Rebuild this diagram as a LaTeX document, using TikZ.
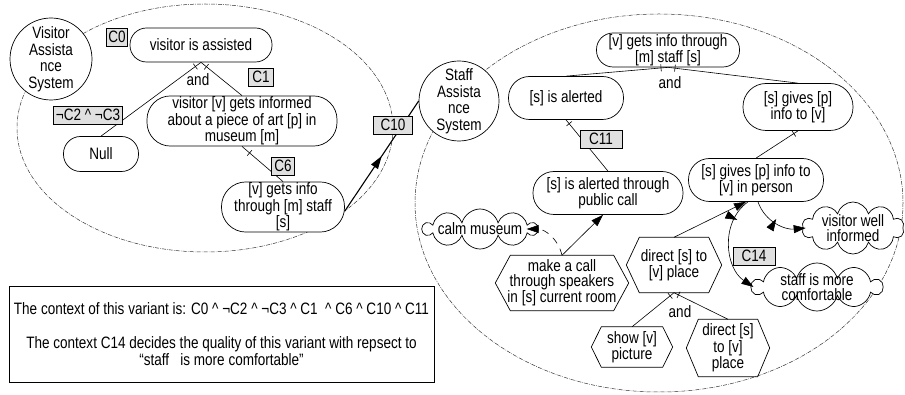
\documentclass[tikz,border=0pt]{standalone}
\usepackage{fontspec}
\setmainfont{Liberation Sans}[FakeStretch=0.82]
\usetikzlibrary{shapes.misc,shapes.symbols,arrows.meta,decorations.markings}
\begin{document}
\begin{tikzpicture}[x=1pt,y=-1pt,
  every node/.style={font=\fontsize{16.5pt}{15pt}\selectfont, inner sep=1pt},
  goal/.style={rectangle, draw, fill=white, line width=0.7pt, align=center},
  hexbox/.style={rectangle, align=center, inner sep=0pt},
  hexline/.style={line width=0.7pt},
  ctxl/.style={draw, fill=black!12, line width=0.6pt, inner xsep=2pt, inner ysep=1pt, minimum height=18pt},
  cloudn/.style={cloud, draw, fill=white, cloud puffs=10, cloud puff arc=150, cloud ignores aspect, line width=0.7pt, inner sep=0pt},
  sys/.style={circle, draw, fill=white, line width=0.7pt, align=center, font=\fontsize{16.5pt}{16.5pt}\selectfont, inner sep=0pt},
  conn/.style={line width=0.6pt},
  arrowend/.style={-{Triangle[length=12pt,width=8pt]}},
  tickat/.style={postaction={decorate,decoration={markings,mark=at position #1 with {\draw[line width=0.6pt] (0pt,-3.5pt) -- (0pt,3.5pt);}}}},
  midarrow/.style={postaction={decorate,decoration={markings,mark=at position #1 with {\arrow{Triangle[length=13pt,width=8pt]}}}}},
  bound/.style={draw=black!80, line width=0.5pt, dash pattern=on 4pt off 1.2pt on 0.6pt off 1.2pt}
]
\useasboundingbox (0,0) rectangle (905,395);

% boundaries
\draw[bound] (205,128) ellipse [x radius=188, y radius=124];
\draw[bound] (659,203) ellipse [x radius=244, y radius=189];

% ---------- left: visitor assistance ----------
\node[sys, minimum size=82pt] (vas) at (51,59) {Visitor\\Assista\\nce\\System};
\node[goal, minimum width=142pt, minimum height=34pt, rounded corners=16.5pt] (top) at (201,45) {visitor is assisted};
\node[goal, minimum width=75pt, minimum height=35pt, rounded corners=17pt] (null) at (101,154) {Null};
\node[goal, minimum width=190pt, minimum height=48pt, rounded corners=23.5pt] (inf) at (242,121) {visitor [v] gets informed\\about a piece of art [p] in\\museum [m]};
\node[goal, minimum width=123pt, minimum height=50pt, rounded corners=24.5pt] (gi) at (283,207) {[v] gets info\\through [m] staff\\{}[s]};
\node (and1) at (198,80) {and};

% ---------- right: staff assistance ----------
\node[sys, minimum size=80pt] (sas) at (459,101) {Staff\\Assista\\nce\\System};
\node[goal, minimum width=143pt, minimum height=34pt, rounded corners=16.5pt] (rtop) at (668,50) {[v] gets info through\\{}[m] staff [s]};
\node[goal, minimum width=115pt, minimum height=43pt, rounded corners=21pt] (alert) at (566,98) {[s] is alerted};
\node[goal, minimum width=110pt, minimum height=47pt, rounded corners=23pt] (gives) at (798,107) {[s] gives [p]\\info to [v]};
\node[goal, minimum width=150pt, minimum height=43pt, rounded corners=21pt] (pcall) at (608,193) {[s] is alerted through\\public call};
\node[goal, minimum width=135pt, minimum height=43pt, rounded corners=21pt] (person) at (756,180) {[s] gives [p] info to\\{}[v] in person};
\node (and2) at (670,83) {and};

\node[hexbox, minimum width=133pt, minimum height=55pt] (call) at (562,283) {make a call\\through speakers\\in [s] current room};
\node[hexbox, minimum width=95pt, minimum height=55pt] (dir) at (674,265) {direct [s] to\\{}[v] place};
\node[hexbox, minimum width=81pt, minimum height=40pt] (show) at (632,347) {show [v]\\picture};
\node[hexbox, minimum width=83pt, minimum height=57pt] (dir2) at (728,348) {direct [s]\\to [v]\\place};
\foreach \n/\k in {call/15pt,dir/13pt,show/10pt,dir2/12pt}
  \draw[hexline] (\n.west) -- ([xshift=\k]\n.north west) -- ([xshift=-\k]\n.north east) -- (\n.east) -- ([xshift=-\k]\n.south east) -- ([xshift=\k]\n.south west) -- cycle;
\node (and3) at (680,312) {and};

\node[cloudn, minimum width=114pt, minimum height=40pt, label={center:calm museum}] (calm) at (480,229) {};
\node[cloudn, minimum width=102pt, minimum height=52pt, label={[align=center]center:visitor well\\informed}] (well) at (853,228) {};
\node[cloudn, minimum width=130pt, minimum height=48pt, label={[align=center]center:staff is more\\comfortable}] (comf) at (817,287) {};

% ---------- connectors ----------
\draw[conn, tickat=7pt] (top.south) -- (null.north);
\draw[conn, tickat=7pt] (top.south) -- (inf.north);
\draw[conn, tickat=10pt] (inf.south) -- (gi.north);
\draw[line width=1.1pt, midarrow=0.5] ([yshift=-4pt]gi.east) -- (sas.west);

\draw[conn, tickat=7pt] (rtop.south) -- (alert.north);
\draw[conn, tickat=7pt] (rtop.south) -- (gives.north);
\draw[conn, tickat=5pt] (alert.south) -- (pcall.north);
\draw[conn, tickat=5pt] (gives.south) -- (person.north);
\draw[conn, arrowend] (call.north) -- ([xshift=-5pt]pcall.south);
\draw[conn, dashed, dash pattern=on 7pt off 6pt, arrowend] (call.north) .. controls (558,238) and (544,229) .. ([xshift=-12pt]calm.east);
\draw[conn, arrowend] (dir.north) -- ([xshift=-10pt]person.south);
\draw[conn, arrowend, tickat=0.45] ([xshift=2pt]person.south) .. controls (765,222) and (785,230) .. ([xshift=3pt]well.west);
\draw[conn, arrowend, tickat=0.22] ([xshift=-8pt]person.south) .. controls (720,222) and (725,268) .. ([xshift=3pt]comf.west);
\draw[conn, tickat=5pt] (dir.south) -- (show.north);
\draw[conn, tickat=5pt] (dir.south) -- (dir2.north);

% ---------- context labels ----------
\node[ctxl, minimum width=21pt] (c0) at (117,37) {C0};
\node[ctxl, minimum width=25pt] (c1) at (261,77) {C1};
\node[ctxl, minimum width=69pt] (c23) at (88,115) {¬C2 \textasciicircum\ ¬C3};
\node[ctxl, minimum width=23pt] (c6) at (283,166) {C6};
\node[ctxl, minimum width=39pt] (c10) at (393,125) {C10};
\node[ctxl, minimum width=42pt] (c11) at (601,139) {C11};
\node[ctxl, minimum width=42pt] (c14) at (754,256) {C14};

% ---------- context box ----------
\node[draw, line width=0.7pt, minimum width=425pt, minimum height=96pt, align=center] (ctx) at (221.5,334)
  {The context of this variant is: C0 \textasciicircum\ ¬C2 \textasciicircum\ ¬C3 \textasciicircum\ C1 \ \textasciicircum\ C6 \textasciicircum\ C10 \textasciicircum\ C11\\[19pt]
   The context C14 decides the quality of this variant with repsect to\\
   “staff \ \ is more comfortable”};
\end{tikzpicture}
\end{document}
